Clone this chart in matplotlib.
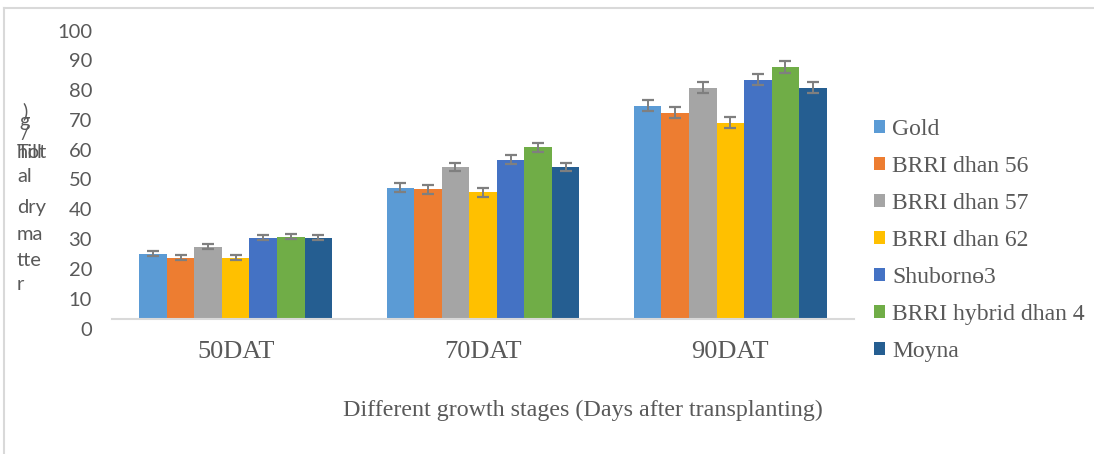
import numpy as np
import matplotlib
matplotlib.use("Agg")
import matplotlib.pyplot as plt
from matplotlib.lines import Line2D
from matplotlib.transforms import ScaledTranslation

stages = ["50DAT", "70DAT", "90DAT"]
varieties = ["Gold", "BRRI dhan 56", "BRRI dhan 57", "BRRI dhan 62",
             "Shuborn\u04e93", "BRRI hybrid dhan 4", "Moyna"]

gold = [21.9, 44.0, 71.6]
brri56 = [20.6, 43.6, 69.2]
brri57 = [24.3, 51.0, 77.6]
brri62 = [20.6, 42.6, 65.9]
shuborno3 = [27.3, 53.4, 80.3]
hybrid4 = [27.6, 57.7, 84.6]
moyna = [27.3, 51.0, 77.6]
errors = [0.9, 1.5, 1.9]
yticks = list(range(0, 101, 10))

series = [gold, brri56, brri57, brri62, shuborno3, hybrid4, moyna]
colors = ["#5B9BD5", "#ED7D31", "#A5A5A5", "#FFC000", "#4472C4", "#70AD47", "#255E91"]

serif = "Liberation Serif"
grey = "#595959"

fig = plt.figure(figsize=(10.94, 4.54), dpi=100)
ax = fig.add_axes([112 / 1094, 135 / 454, 742 / 1094, 298 / 454])

x = np.arange(len(stages))
w = 0.78 / len(series)
bars = []
for i, (vals, c) in enumerate(zip(series, colors)):
    pos = x - 0.39 + w * (i + 0.5)
    b = ax.bar(pos, vals, width=w, color=c, label=varieties[i])
    ax.errorbar(pos, vals, yerr=errors, fmt="none", ecolor="#7F7F7F",
                elinewidth=1.4, capsize=4.3, capthick=1.6)
    bars.append(b)

ax.set_xlim(-0.5, 2.5)
ax.set_ylim(0, 100)
ax.set_yticks(yticks)
ax.set_yticklabels([])
ax.set_xticks(x)
ax.set_xticklabels(stages, fontfamily=serif, fontsize=19, color=grey)
ax.tick_params(axis="both", length=0)
ax.tick_params(axis="x", pad=16)

# value labels sit a little below their ticks, as in the source chart
shift = ax.get_yaxis_transform() + ScaledTranslation(-0.20, -0.11, fig.dpi_scale_trans)
for v in yticks:
    ax.text(0, v, str(v), transform=shift, ha="right", va="center",
            fontfamily="Lato", fontsize=14.5, color=grey)

for s in ["top", "right", "left"]:
    ax.spines[s].set_visible(False)
ax.spines["bottom"].set_color("#D9D9D9")
ax.spines["bottom"].set_linewidth(1.5)

fig.text(583 / 1094, 1 - 410 / 454, "Different growth stages (Days after transplanting)",
         ha="center", va="center", fontfamily=serif, fontsize=17.3, color=grey)

# wrapped y-axis title, drawn as the source renders it
ylab = [(")", 22, 111), ("g", 19, 122), ("/", 20, 133), ("hill", 17, 152),
        ("Tot", 17, 152), ("al", 17, 177), ("dry", 17, 207), ("ma", 17, 235),
        ("tte", 17, 260), ("r", 17, 285)]
for t, px, py in ylab:
    fig.text(px / 1094, 1 - py / 454, t, ha="left", va="center",
             fontfamily="Lato", fontsize=14.5, color=grey)

ax.legend(handles=bars, loc="upper left", bbox_to_anchor=(874 / 1094, 1 - 119 / 454),
          bbox_transform=fig.transFigure, frameon=False, borderpad=0, borderaxespad=0,
          handlelength=0.47, handleheight=0.47, handletextpad=0.3, labelspacing=0.68,
          prop={"family": serif, "size": 17}, labelcolor=grey)

fig.add_artist(Line2D([4 / 1094, 1], [1 - 8 / 454, 1 - 8 / 454], color="#D9D9D9", lw=1.5))
fig.add_artist(Line2D([4 / 1094, 4 / 1094], [0, 1 - 8 / 454], color="#D9D9D9", lw=1.5))

fig.savefig("out.png", dpi=100)
